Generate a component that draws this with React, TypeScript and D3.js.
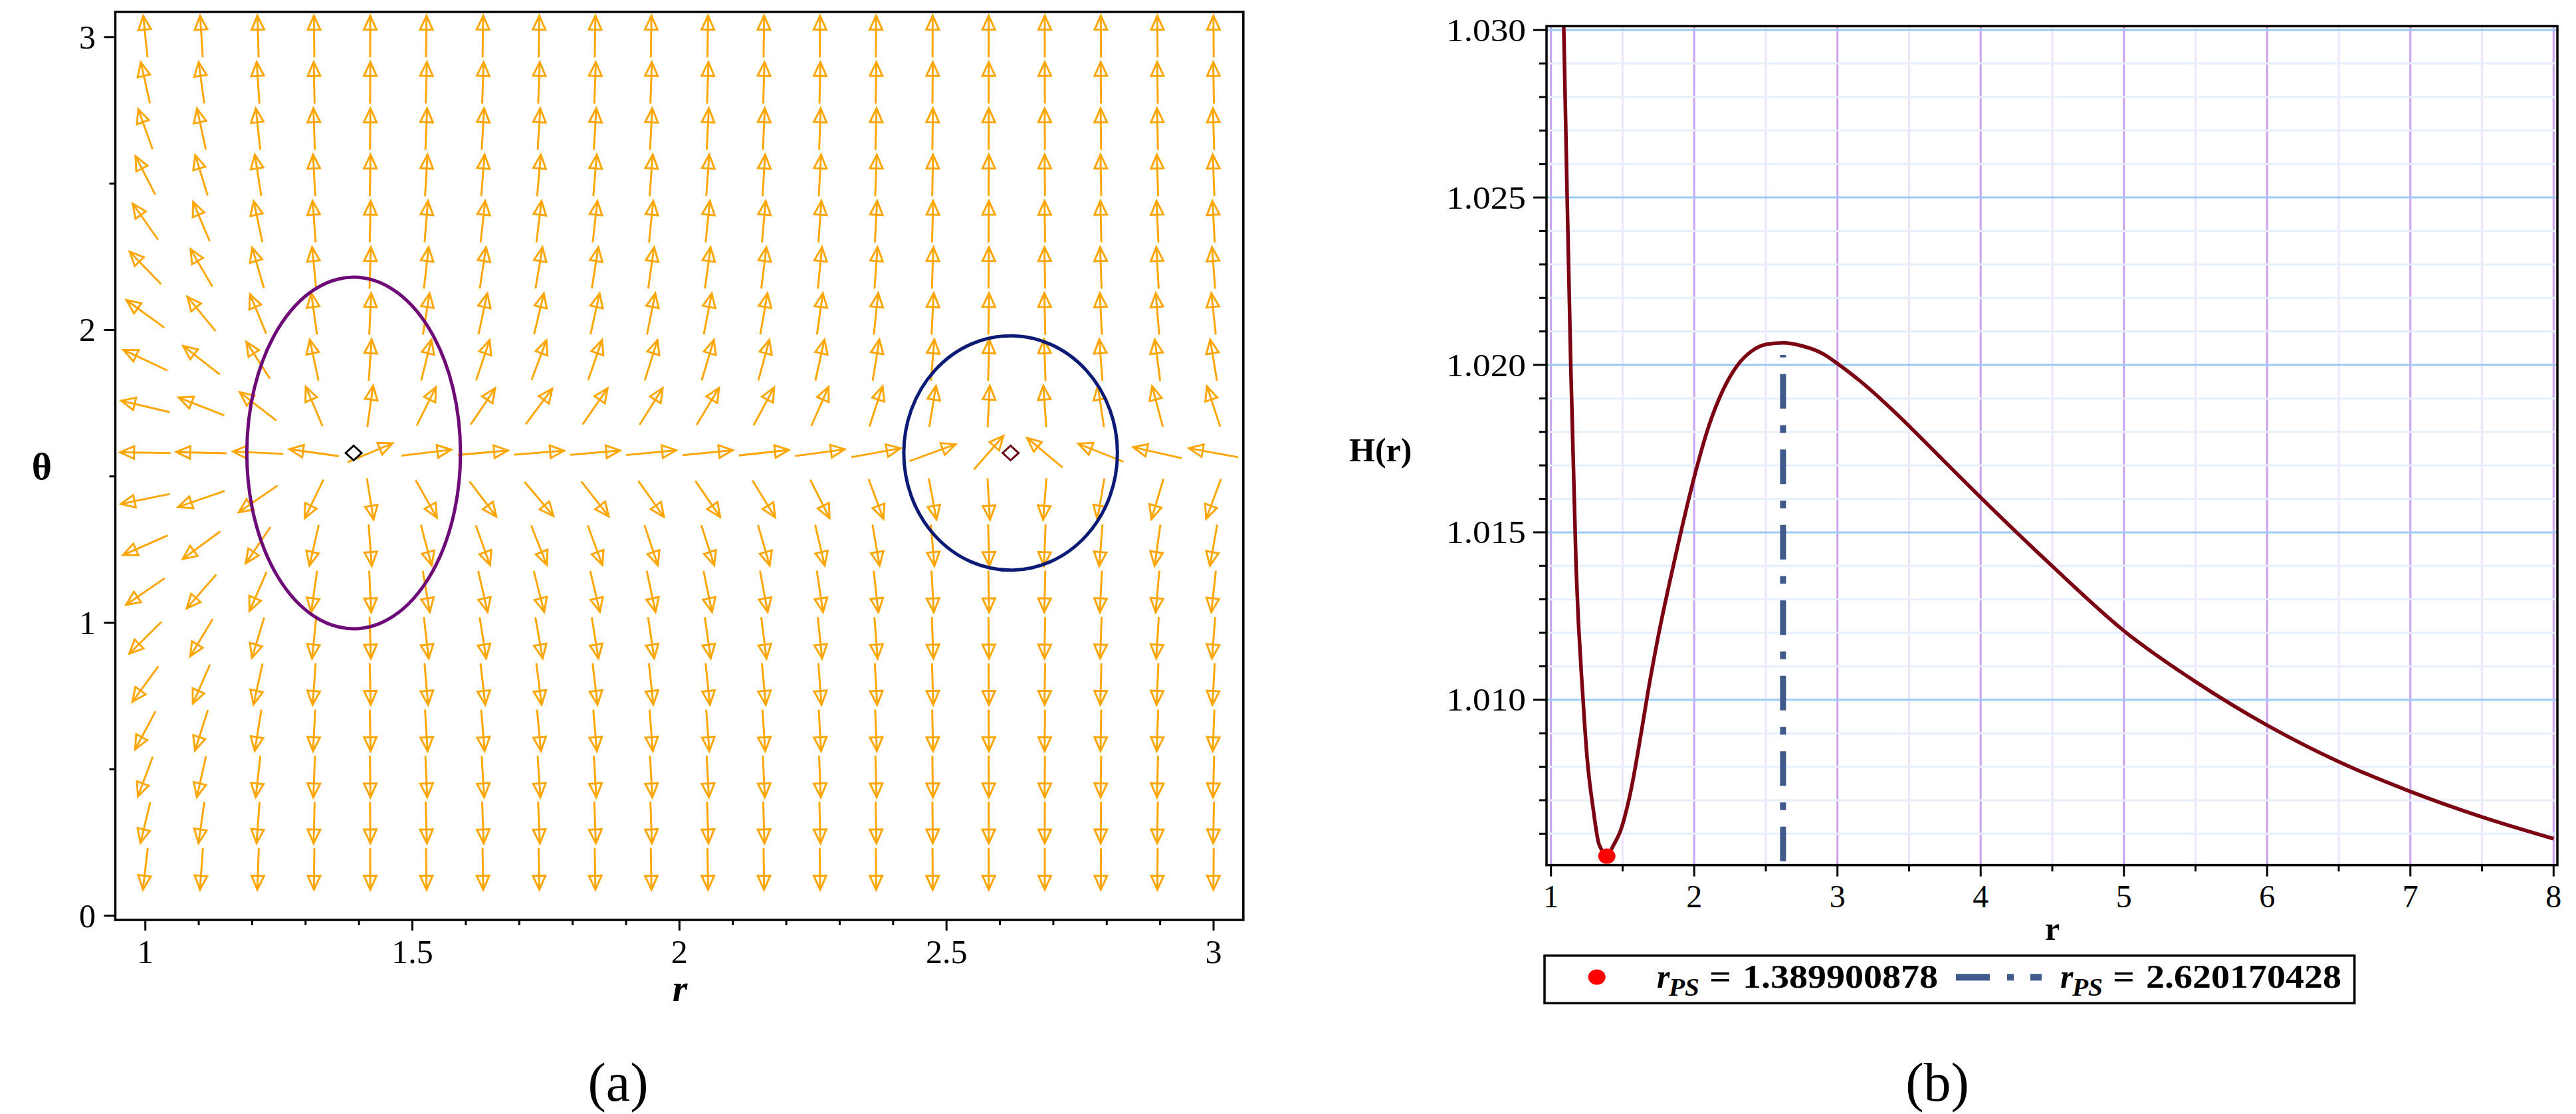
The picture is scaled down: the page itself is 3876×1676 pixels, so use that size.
import React, { useEffect } from 'react';
import * as d3 from 'd3';

// ---- panel (a): vector field grid ----
const fieldR = [1.0, 1.105, 1.211, 1.316, 1.421, 1.526, 1.632, 1.737, 1.842, 1.947,
  2.053, 2.158, 2.263, 2.368, 2.474, 2.579, 2.684, 2.789, 2.895, 3.0];
// horizontal pull of each column (relative to the vertical pull), read from arrow tilts
const radialTilt = [-0.6, -0.36, -0.18, -0.06, 0.02, 0.07, 0.094, 0.105, 0.097, 0.088,
  0.085, 0.076, 0.062, 0.046, 0.023, 0.0074, -0.0101, -0.021, -0.037, -0.046];
const fieldTheta = [0.16, 0.318, 0.475, 0.633, 0.791, 0.949, 1.107, 1.265, 1.423, 1.581,
  1.739, 1.897, 2.055, 2.212, 2.37, 2.528, 2.686, 2.844, 3.002];
// vertical pull of each row
const angularPull = [-6.2, -3.04, -1.94, -1.36, -0.99, -0.72, -0.5, -0.32, -0.15, 0.0102,
  0.17, 0.34, 0.53, 0.75, 1.03, 1.42, 2.03, 3.25, 7.07];

// zero points of the field and their contours
const zeroR = [1.39, 2.62];
const zeroTheta = [1.58, 1.58];
const contourRx = [0.2, 0.2];
const contourRy = [0.6, 0.4];
const contourColor = ['#6E0A78', '#0B1A74'];
const diamondColor = ['#000000', '#6B0A14'];

// ---- panel (b): H(r) ----
const curveR = [1.072, 1.089, 1.113, 1.138, 1.175, 1.224, 1.251, 1.295, 1.331, 1.36, 1.39,
  1.42, 1.438, 1.482, 1.553, 1.633, 1.677, 1.749, 1.855, 2.005, 2.1, 2.2, 2.3, 2.4, 2.5,
  2.62, 2.75, 2.9, 3.0, 3.2, 3.4, 3.6, 3.8, 4.0, 4.5, 5.0, 5.5, 6.0, 6.5, 7.0, 7.5, 8.0];
const curveH = [1.0335, 1.0301, 1.025, 1.02, 1.014, 1.01, 1.00833, 1.00673, 1.00575,
  1.00548, 1.00534, 1.00552, 1.00567, 1.00605, 1.00719, 1.00909, 1.01023, 1.0119, 1.01402,
  1.01673, 1.01815, 1.01924, 1.01998, 1.02041, 1.02061, 1.02066, 1.02057, 1.02033, 1.02004,
  1.01937, 1.01859, 1.01775, 1.01689, 1.01604, 1.01399, 1.01206, 1.01054, 1.00924, 1.00815,
  1.00726, 1.0065, 1.00585];
const stableR = 1.389900878;
const stableH = 1.00533;
const unstableR = 2.620170428;
const unstableTop = 1.0203;
const legendLabels = ['1.389900878', '2.620170428'];

const thetaTicks = [0, 1, 2, 3];
const rTicksA = [1, 1.5, 2, 2.5, 3];
const hTicks = [1.01, 1.015, 1.02, 1.025, 1.03];
const rTicksB = [1, 2, 3, 4, 5, 6, 7, 8];

const serif = "'Liberation Serif', 'Times New Roman', 'DejaVu Serif', serif";
const ORANGE = '#FFA500';

const A = { left: 173.5, right: 1870.8, top: 17.9, bottom: 1384 };
const B = { left: 2327, right: 3848, top: 39.4, bottom: 1301.6 };

const App = () => {
  useEffect(() => {
    document.body.style.margin = '0';
  }, []);

  const xA = d3.scaleLinear().domain([1, 3]).range([218.7, 1826]);
  const yA = d3.scaleLinear().domain([0, 3]).range([1377.7, 55.8]);
  const xB = d3.scaleLinear().domain([1, 8]).range([2333.7, 3842.3]);
  const yB = d3.scaleLinear().domain([1.01, 1.03]).range([1052.8, 45.2]);

  const colPx = xA(fieldR[1]) - xA(fieldR[0]);
  const rowPx = Math.abs(yA(fieldTheta[0]) - yA(fieldTheta[1]));

  const arrows: JSX.Element[] = [];
  fieldTheta.forEach((th, i) => {
    fieldR.forEach((r, j) => {
      const u = radialTilt[j];
      const v = angularPull[i];
      const n = Math.hypot(u, v);
      const dx = 0.9 * (u / n) * colPx;
      const dy = -0.9 * (v / n) * rowPx;
      const cx = xA(r), cy = yA(th);
      const x1 = cx - dx / 2, y1 = cy - dy / 2, x2 = cx + dx / 2, y2 = cy + dy / 2;
      const len = Math.hypot(dx, dy);
      const ux = dx / len, uy = dy / len;
      const bx = x2 - ux * 21, by = y2 - uy * 21;
      const px = -uy * 9.5, py = ux * 9.5;
      arrows.push(
        <g key={`a${i}-${j}`}>
          <line x1={x1} y1={y1} x2={x2 - ux * 3} y2={y2 - uy * 3} />
          <path d={`M${x2},${y2}L${bx + px},${by + py}L${bx - px},${by - py}Z`} />
        </g>
      );
    });
  });

  const line = d3.line<number>()
    .x((_, i) => xB(curveR[i]))
    .y((d) => yB(d))
    .curve(d3.curveMonotoneX);

  const thetaMinor = [0.5, 1.5, 2.5];
  const rMinorA = d3.range(1, 3.001, 0.1).map((d) => +d.toFixed(1)).filter((d) => !rTicksA.includes(d));
  const hMinor = d3.range(1.006, 1.0301, 0.001).map((d) => +d.toFixed(3)).filter((d) => !hTicks.includes(d));
  const rMinorB = d3.range(1.5, 8, 1);
  const fmtH = d3.format('.3f');

  const diamond = (cx: number, cy: number) =>
    `M${cx},${cy - 11}L${cx + 12},${cy}L${cx},${cy + 11}L${cx - 12},${cy}Z`;

  return (
    <div style={{ position: 'absolute', left: 0, top: 0 }}>
      <svg width={3876} height={1676} viewBox="0 0 3876 1676"
        style={{ display: 'block', background: '#fff', fontFamily: serif }}>
        <defs>
          <clipPath id="clipB">
            <rect x={B.left} y={B.top} width={B.right - B.left} height={B.bottom - B.top} />
          </clipPath>
          <clipPath id="clipA">
            <rect x={A.left} y={A.top} width={A.right - A.left} height={A.bottom - A.top} />
          </clipPath>
        </defs>

        {/* ---------- panel (a) ---------- */}
        <g stroke={ORANGE} strokeWidth={2.9} fill="none" strokeLinejoin="miter" clipPath="url(#clipA)">
          {arrows}
        </g>
        {zeroR.map((r, k) => (
          <ellipse key={`e${k}`} cx={xA(r)} cy={yA(zeroTheta[k])}
            rx={xA(r + contourRx[k]) - xA(r)} ry={yA(zeroTheta[k]) - yA(zeroTheta[k] + contourRy[k])}
            fill="none" stroke={contourColor[k]} strokeWidth={5} />
        ))}
        {zeroR.map((r, k) => (
          <path key={`d${k}`} d={diamond(xA(r), yA(zeroTheta[k]))} fill="#fff"
            stroke={diamondColor[k]} strokeWidth={3} />
        ))}
        <rect x={A.left} y={A.top} width={A.right - A.left} height={A.bottom - A.top}
          fill="none" stroke="#000" strokeWidth={3.5} />
        <g stroke="#000" strokeWidth={3}>
          {thetaTicks.map((t) => <line key={`ty${t}`} x1={A.left - 17} x2={A.left} y1={yA(t)} y2={yA(t)} />)}
          {thetaMinor.map((t) => <line key={`tym${t}`} x1={A.left - 9} x2={A.left} y1={yA(t)} y2={yA(t)} />)}
          {rTicksA.map((t) => <line key={`tx${t}`} y1={A.bottom} y2={A.bottom + 16} x1={xA(t)} x2={xA(t)} />)}
          {rMinorA.map((t) => <line key={`txm${t}`} y1={A.bottom} y2={A.bottom + 8} x1={xA(t)} x2={xA(t)} />)}
        </g>
        <g fontSize={50} fill="#000" style={{ fontFamily: serif }}>
          {thetaTicks.map((t) => (
            <text key={`ly${t}`} x={144} y={yA(t)} textAnchor="end" dominantBaseline="central">{t}</text>
          ))}
          {rTicksA.map((t) => (
            <text key={`lx${t}`} x={xA(t)} y={1449} textAnchor="middle">{t}</text>
          ))}
        </g>
        <text x={63} y={721} fontSize={58} fontWeight="bold" textAnchor="middle" style={{ fontFamily: serif }}>θ</text>
        <text x={1023} y={1506} fontSize={58} fontWeight="bold" fontStyle="italic" textAnchor="middle"
          style={{ fontFamily: serif }}>r</text>
        <text x={930} y={1656} fontSize={82} textAnchor="middle" style={{ fontFamily: serif }}>(a)</text>

        {/* ---------- panel (b) ---------- */}
        <g strokeWidth={3}>
          {rMinorB.map((t) => (
            <line key={`gvm${t}`} x1={xB(t)} x2={xB(t)} y1={B.top} y2={B.bottom} stroke="#EEE4FB" />
          ))}
          {rTicksB.map((t) => (
            <line key={`gv${t}`} x1={xB(t)} x2={xB(t)} y1={B.top} y2={B.bottom} stroke="#C8A2F1" />
          ))}
          {hMinor.map((t) => (
            <line key={`ghm${t}`} x1={B.left} x2={B.right} y1={yB(t)} y2={yB(t)} stroke="#E6EFFB" />
          ))}
          {hTicks.map((t) => (
            <line key={`gh${t}`} x1={B.left} x2={B.right} y1={yB(t)} y2={yB(t)} stroke="#9CCBF6" />
          ))}
        </g>
        <g clipPath="url(#clipB)">
          <path d={line(curveH) || ''} fill="none" stroke="#7A0012" strokeWidth={5.5} strokeLinejoin="round" />
          <line x1={xB(unstableR)} x2={xB(unstableR)} y1={1295.8} y2={yB(unstableTop)}
            stroke="#3F5A8B" strokeWidth={9} strokeDasharray="52 25 11.5 25" />
          <ellipse cx={xB(stableR)} cy={yB(stableH)} rx={13} ry={11.5} fill="#FF0000" />
        </g>
        <rect x={B.left} y={B.top} width={B.right - B.left} height={B.bottom - B.top}
          fill="none" stroke="#000" strokeWidth={3.5} />
        <g stroke="#000" strokeWidth={3}>
          {hTicks.map((t) => <line key={`tby${t}`} x1={B.left - 20} x2={B.left} y1={yB(t)} y2={yB(t)} />)}
          {hMinor.map((t) => <line key={`tbym${t}`} x1={B.left - 11} x2={B.left} y1={yB(t)} y2={yB(t)} />)}
          {rTicksB.map((t) => <line key={`tbx${t}`} y1={B.bottom} y2={B.bottom + 17} x1={xB(t)} x2={xB(t)} />)}
          {rMinorB.map((t) => <line key={`tbxm${t}`} y1={B.bottom} y2={B.bottom + 9.5} x1={xB(t)} x2={xB(t)} />)}
        </g>
        <g fontSize={48} fill="#000" style={{ fontFamily: serif }}>
          {hTicks.map((t) => (
            <text key={`lby${t}`} x={2296} y={yB(t)} textAnchor="end" dominantBaseline="central"
              textLength={120} lengthAdjust="spacingAndGlyphs">{fmtH(t)}</text>
          ))}
          {rTicksB.map((t) => (
            <text key={`lbx${t}`} x={xB(t)} y={1365} textAnchor="middle">{t}</text>
          ))}
        </g>
        <text x={2030} y={694} fontSize={50} fontWeight="bold" style={{ fontFamily: serif }}>H(r)</text>
        <text x={3088} y={1414} fontSize={50} fontWeight="bold" textAnchor="middle" style={{ fontFamily: serif }}>r</text>

        {/* legend */}
        <rect x={2324} y={1437.7} width={1218.7} height={71.6} fill="#fff" stroke="#000" strokeWidth={3.5} />
        <ellipse cx={2402.7} cy={1470} rx={13} ry={11.5} fill="#FF0000" />
        <line x1={2943} x2={3072} y1={1470.3} y2={1470.3} stroke="#3F5A8B" strokeWidth={10}
          strokeDasharray="51 26 10 25" />
        {[2493, 3100].map((x0, k) => (
          <g key={`lg${k}`} fontWeight="bold" fill="#000" style={{ fontFamily: serif }}>
            <text x={x0} y={1486} fontSize={50} fontStyle="italic">r</text>
            <text x={x0 + 18} y={1498} fontSize={38} fontStyle="italic" textLength={46}
              lengthAdjust="spacingAndGlyphs">PS</text>
            <text x={x0 + 79} y={1486} fontSize={50} textLength={33} lengthAdjust="spacingAndGlyphs">=</text>
            <text x={x0 + 129} y={1486} fontSize={50} textLength={294}
              lengthAdjust="spacingAndGlyphs">{legendLabels[k]}</text>
          </g>
        ))}
        <text x={2915} y={1656} fontSize={82} textAnchor="middle" style={{ fontFamily: serif }}>(b)</text>
      </svg>
    </div>
  );
};

export default App;
